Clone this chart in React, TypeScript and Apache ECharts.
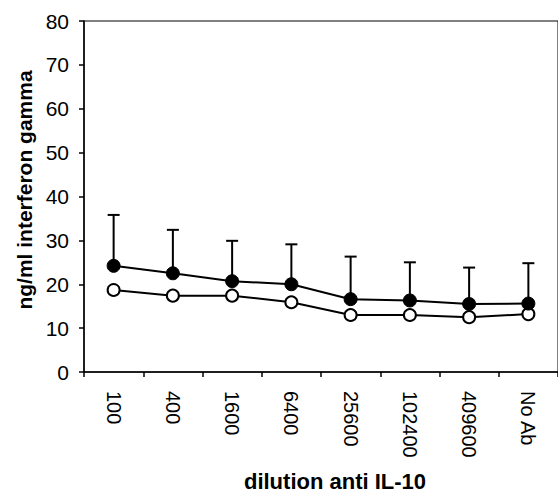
import React, { useEffect, useRef } from "react";
import * as echarts from "echarts";

const categories = ["100", "400", "1600", "6400", "25600", "102400", "409600", "No Ab"];
const filledMeans = [24.2, 22.5, 20.7, 20.0, 16.6, 16.3, 15.5, 15.6];
const filledUpper = [35.8, 32.4, 29.9, 29.1, 26.3, 25.0, 23.8, 24.8];
const openMeans = [18.7, 17.4, 17.4, 15.9, 13.0, 13.0, 12.5, 13.2];
const yTicks = { min: 0, max: 80, interval: 10 };
const yTitle = "ng/ml interferon gamma";
const xTitle = "dilution anti IL-10";

const FONT = "'Liberation Sans', Arial, sans-serif";

export default function App() {
  const ref = useRef<HTMLDivElement>(null);
  useEffect(() => {
    document.body.style.margin = "0";
    if (!ref.current) return;
    const chart = echarts.init(ref.current, undefined, { renderer: "svg" });
    const errData = categories.map((_, i) => [i, filledMeans[i], filledUpper[i]]);
    chart.setOption({
      animation: false,
      backgroundColor: "#fff",
      grid: {
        left: 84,
        top: 21,
        width: 483,
        height: 351,
        show: true,
        borderColor: "#000",
        borderWidth: 1,
        backgroundColor: "transparent",
      },
      xAxis: {
        type: "category",
        data: categories,
        boundaryGap: true,
        axisLine: { lineStyle: { color: "#000", width: 1.5 } },
        axisTick: { show: true, length: 5, lineStyle: { color: "#000", width: 1.5 } },
        axisLabel: {
          rotate: -90,
          margin: 19,
          color: "#000",
          fontSize: 20,
          fontFamily: FONT,
        },
        splitLine: { show: false },
      },
      yAxis: {
        type: "value",
        min: yTicks.min,
        max: yTicks.max,
        interval: yTicks.interval,
        axisLine: { show: true, lineStyle: { color: "#000", width: 1.5 } },
        axisTick: { show: true, length: 5, lineStyle: { color: "#000", width: 1.5 } },
        axisLabel: { margin: 15, color: "#000", fontSize: 21, fontFamily: FONT },
        splitLine: { show: false },
      },
      graphic: [
        {
          type: "text",
          x: 24,
          y: 190,
          rotation: Math.PI / 2,
          style: {
            text: yTitle,
            fill: "#000",
            font: `bold 21px ${FONT}`,
            textAlign: "center",
            textVerticalAlign: "middle",
          },
        },
        {
          type: "text",
          x: 335,
          y: 481,
          style: {
            text: xTitle,
            fill: "#000",
            font: `bold 22px ${FONT}`,
            textAlign: "center",
            textVerticalAlign: "middle",
          },
        },
      ],
      series: [
        {
          type: "custom",
          z: 1,
          data: errData,
          renderItem: (params: any, api: any) => {
            const x = api.coord([api.value(0), api.value(1)])[0];
            const y0 = api.coord([api.value(0), api.value(1)])[1];
            const y1 = api.coord([api.value(0), api.value(2)])[1];
            const style = { stroke: "#000", lineWidth: 2 };
            return {
              type: "group",
              children: [
                { type: "line", shape: { x1: x, y1: y0, x2: x, y2: y1 }, style },
                { type: "line", shape: { x1: x - 6, y1: y1, x2: x + 6, y2: y1 }, style },
              ],
            };
          },
        },
        {
          type: "line",
          z: 3,
          data: openMeans,
          symbol: "circle",
          symbolSize: 12,
          lineStyle: { color: "#000", width: 2 },
          itemStyle: { color: "#fff", borderColor: "#000", borderWidth: 2 },
        },
        {
          type: "line",
          z: 4,
          data: filledMeans,
          symbol: "circle",
          symbolSize: 13,
          lineStyle: { color: "#000", width: 2 },
          itemStyle: { color: "#000", borderColor: "#000", borderWidth: 1 },
        },
      ],
    });
    return () => chart.dispose();
  }, []);
  return <div ref={ref} style={{ width: 558, height: 493 }} />;
}
